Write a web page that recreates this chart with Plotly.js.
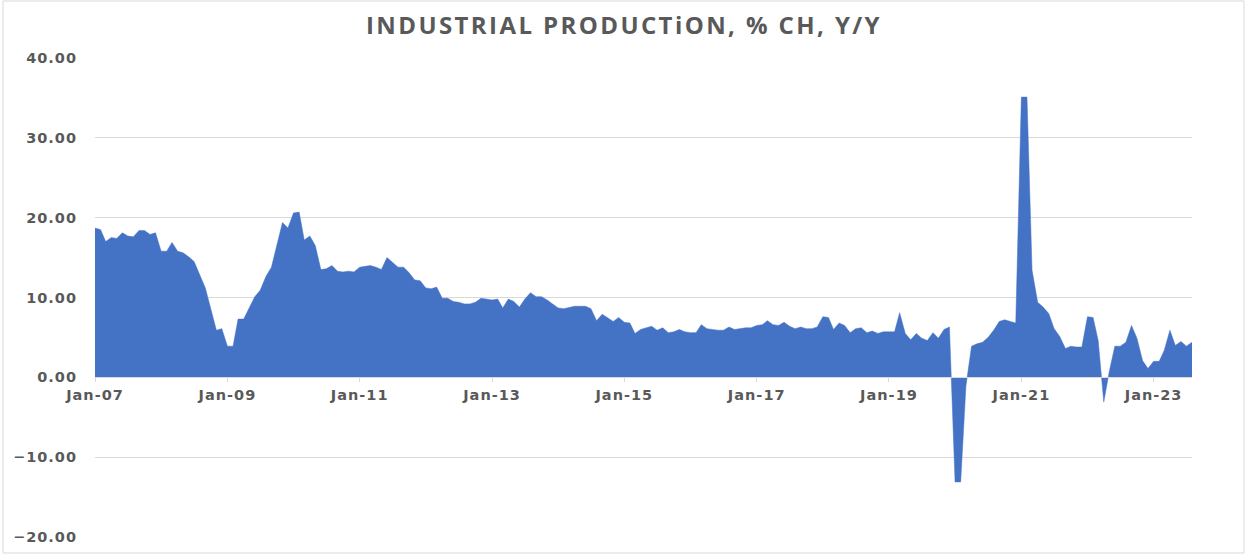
<!DOCTYPE html>
<html>
<head>
<meta charset="utf-8">
<script src="https://cdn.plot.ly/plotly-3.0.1.min.js"></script>
<style>
html,body{margin:0;padding:0;background:#fff;}
#chart{width:1248px;height:554px;}
#chart .gtitle{letter-spacing:2.4px;}
#chart .xtick text, #chart .ytick text{letter-spacing:1px;}
</style>
</head>
<body>
<div id="chart"></div>
<script>
// Monthly industrial production, % change y/y, Jan-2007 .. Aug-2023
const startYear = 2007;
const startMonth = 1;
const ipYoY = [
  // 2007
  18.7, 18.5, 17.0, 17.5, 17.4, 18.1, 17.7, 17.6, 18.4, 18.4, 17.9, 18.1,
  // 2008
  15.8, 15.8, 16.9, 15.8, 15.6, 15.1, 14.5, 12.8, 11.2, 8.6, 5.9, 6.1,
  // 2009
  3.9, 3.9, 7.3, 7.3, 8.6, 10.1, 10.9, 12.6, 13.8, 16.6, 19.4, 18.7,
  // 2010
  20.6, 20.7, 17.2, 17.7, 16.5, 13.5, 13.6, 14.0, 13.3, 13.2, 13.3, 13.2,
  // 2011
  13.8, 13.9, 14.0, 13.8, 13.5, 15.0, 14.4, 13.8, 13.8, 13.1, 12.2, 12.1,
  // 2012
  11.2, 11.1, 11.3, 9.9, 9.9, 9.5, 9.4, 9.2, 9.2, 9.4, 9.9, 9.8,
  // 2013
  9.7, 9.8, 8.7, 9.8, 9.5, 8.8, 9.8, 10.6, 10.1, 10.1, 9.7, 9.2,
  // 2014
  8.7, 8.6, 8.7, 8.9, 8.9, 8.9, 8.6, 7.1, 7.9, 7.5, 7.0, 7.5,
  // 2015
  6.9, 6.8, 5.5, 6.0, 6.2, 6.4, 5.9, 6.2, 5.6, 5.7, 6.0, 5.7,
  // 2016
  5.6, 5.6, 6.6, 6.1, 6.0, 5.9, 5.9, 6.3, 6.0, 6.1, 6.2, 6.2,
  // 2017
  6.5, 6.6, 7.1, 6.6, 6.5, 6.9, 6.4, 6.1, 6.3, 6.1, 6.1, 6.3,
  // 2018
  7.6, 7.5, 6.0, 6.8, 6.5, 5.6, 6.1, 6.2, 5.6, 5.8, 5.5, 5.7,
  // 2019
  5.7, 5.7, 8.1, 5.5, 4.7, 5.5, 4.9, 4.6, 5.6, 4.9, 6.0, 6.3,
  // 2020
  -13.1, -13.1, -1.1, 3.9, 4.2, 4.4, 5.0, 5.9, 7.0, 7.2, 7.0, 6.8,
  // 2021
  35.1, 35.1, 13.4, 9.4, 8.8, 8.0, 6.1, 5.1, 3.6, 3.9, 3.8, 3.8,
  // 2022
  7.6, 7.5, 4.6, -3.1, 0.7, 3.9, 3.9, 4.4, 6.5, 4.9, 2.1, 1.1,
  // 2023
  2.0, 2.0, 3.4, 5.9, 4.0, 4.5, 3.9, 4.4
];
const yTickVals = [-20, -10, 0, 10, 20, 30, 40];
const chartTitle = "INDUSTRIAL PRODUCTiON, % CH, Y/Y";

// month category dates
const months = ipYoY.map((_, i) => {
  const m0 = (startMonth - 1) + i;
  const y = startYear + Math.floor(m0 / 12);
  const m = (m0 % 12) + 1;
  return y + "-" + String(m).padStart(2, "0") + "-01";
});

const trace = {
  x: months,
  y: ipYoY,
  type: "scatter",
  mode: "lines",
  fill: "tozeroy",
  fillcolor: "#4472C4",
  line: { color: "#4472C4", width: 0.5 },
  hoverinfo: "x+y"
};

const L = 95, R = 56, T = 58, B = 17;
const W = 1248, H = 554;
const pw = W - L - R, ph = H - T - B;
const tickFont = { family: "DejaVu Sans, Verdana, sans-serif", size: 14.5, color: "#595959", weight: "bold" };

const layout = {
  width: W,
  height: H,
  margin: { l: L, r: R, t: T, b: B },
  paper_bgcolor: "#ffffff",
  plot_bgcolor: "#ffffff",
  showlegend: false,
  title: {
    text: "<b>" + chartTitle + "</b>",
    font: { family: "Open Sans, Liberation Sans, Arial, sans-serif", size: 24, color: "#595959" },
    x: 0.5, xref: "container", xanchor: "center",
    y: 1 - 26 / H, yref: "container", yanchor: "middle"
  },
  xaxis: {
    type: "date",
    range: [months[0], months[months.length - 1]],
    tick0: "2007-01-01",
    dtick: "M24",
    tickformat: "%b-%y",
    anchor: "free",
    position: (0 - (-20)) / 60,
    showgrid: false,
    zeroline: false,
    showline: true,
    linecolor: "#d9d9d9",
    linewidth: 1,
    ticks: "outside",
    ticklen: 4,
    tickcolor: "#d9d9d9",
    tickfont: tickFont,
    fixedrange: true
  },
  yaxis: {
    range: [-20, 40],
    tickvals: yTickVals,
    tickformat: ".2f",
    showgrid: true,
    gridcolor: "#d9d9d9",
    gridwidth: 1,
    zeroline: false,
    showline: false,
    ticks: "",
    ticklabelstandoff: 17,
    tickfont: tickFont,
    fixedrange: true
  },
  shapes: [{
    type: "rect",
    xref: "paper", yref: "paper",
    x0: (3 - L) / pw, x1: (1244 - L) / pw,
    y0: (ph - (H - 1 - T)) / ph, y1: (ph + T - 1) / ph,
    line: { color: "#d9d9d9", width: 1 },
    fillcolor: "rgba(0,0,0,0)",
    layer: "below"
  }]
};

Plotly.newPlot("chart", [trace], layout, { staticPlot: true, displayModeBar: false });
</script>
</body>
</html>
